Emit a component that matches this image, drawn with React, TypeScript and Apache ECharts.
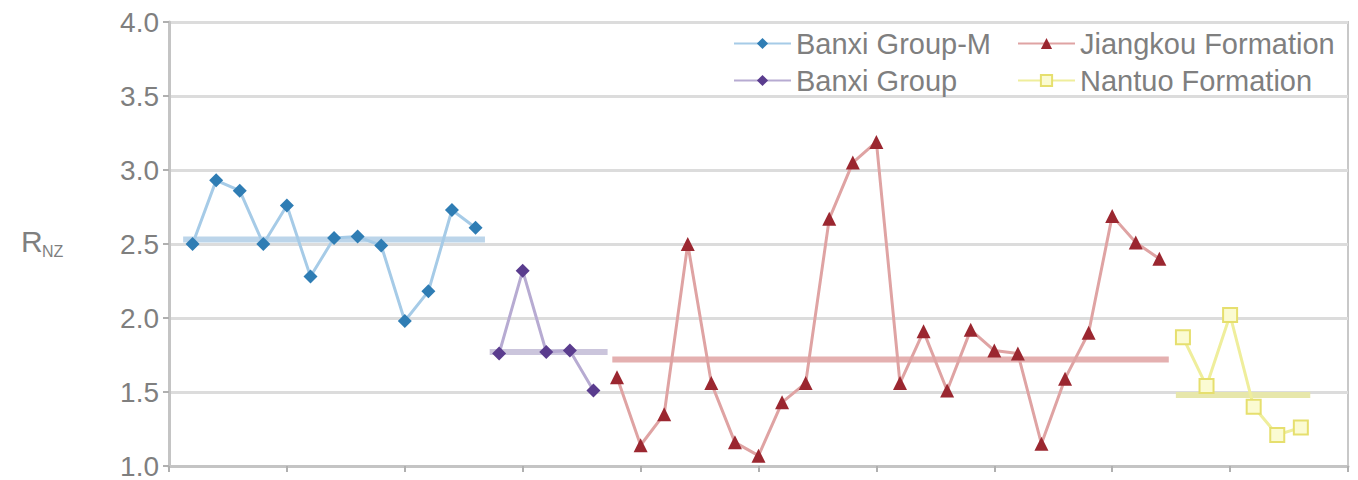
import React, { useEffect, useRef } from "react";
import * as echarts from "echarts";

// Sample values (R_NZ) per unit, in stratigraphic order
const banxiM = [2.50, 2.93, 2.86, 2.50, 2.76, 2.28, 2.54, 2.55, 2.49, 1.98, 2.18, 2.73, 2.61];
const banxi = [1.76, 2.32, 1.77, 1.78, 1.51];
const jiangkou = [1.60, 1.14, 1.35, 2.50, 1.56, 1.16, 1.07, 1.43, 1.56, 2.67, 3.05, 3.19, 1.56, 1.91, 1.51, 1.92, 1.78, 1.76, 1.15, 1.59, 1.90, 2.69, 2.51, 2.40];
const nantuo = [1.87, 1.54, 2.02, 1.40, 1.21, 1.26];

// Average level of each unit and the sample range it spans
const meanValues = [2.53, 1.77, 1.72, 1.48];
const meanSpans = [[0.6, 13.4], [13.6, 18.6], [18.8, 42.4], [42.7, 48.4]];

const seriesNames = ["Banxi Group-M", "Banxi Group", "Jiangkou Formation", "Nantuo Formation"];
const yTicks = [1.0, 1.5, 2.0, 2.5, 3.0, 3.5, 4.0];

const lineColors = ["#a6cbe7", "#b7abd2", "#dfa3a3", "#efee9c"];
const markerColors = ["#2f7db4", "#5a3c8e", "#9b2730", "#e6df6e"];
const meanColors = ["#bcd5ea", "#cbc5dc", "#e4b0b0", "#e7e7ab"];

export default function App() {
  const ref = useRef<HTMLDivElement>(null);
  useEffect(() => {
    document.body.style.margin = "0";
    if (!ref.current) return;
    const chart = echarts.init(ref.current, null, { renderer: "svg" });
    const groups = [banxiM, banxi, jiangkou, nantuo];
    let start = 1;
    const dataSeries: any[] = groups.map((vals, gi) => {
      const data = vals.map((v, i) => [start + i, v]);
      start += vals.length;
      const symbols = ["diamond", "diamond", "triangle", "rect"];
      const sizes = [14, 14, 14, 14];
      return {
        name: seriesNames[gi],
        type: "line",
        data,
        symbol: symbols[gi],
        symbolSize: sizes[gi],
        showSymbol: true,
        z: 3,
        lineStyle: { color: lineColors[gi], width: 3 },
        itemStyle:
          gi === 3
            ? { color: "#fbfbd2", borderColor: markerColors[gi], borderWidth: 2 }
            : { color: markerColors[gi], borderWidth: 0 },
      };
    });
    const meanSeries: any[] = meanValues.map((m, i) => ({
      name: "mean" + i,
      type: "line",
      data: [
        [meanSpans[i][0], m],
        [meanSpans[i][1], m],
      ],
      symbol: "none",
      z: 2,
      lineStyle: { color: meanColors[i], width: 6 },
      silent: true,
    }));
    const legendText = { fontSize: 29, color: "#7f7f7f", fontFamily: "Liberation Sans" };
    chart.setOption({
      animation: false,
      backgroundColor: "#ffffff",
      grid: {
        left: 169,
        right: 10,
        top: 22,
        bottom: 11,
        show: true,
        borderColor: "#c8c8c8",
        borderWidth: 2,
      },
      legend: [
        {
          orient: "vertical",
          left: 728,
          top: 24,
          itemWidth: 57,
          itemHeight: 14,
          itemGap: 8,
          textStyle: legendText,
          data: [seriesNames[0], seriesNames[1]],
        },
        {
          orient: "vertical",
          left: 1012,
          top: 24,
          itemWidth: 57,
          itemHeight: 14,
          itemGap: 8,
          textStyle: legendText,
          data: [seriesNames[2], seriesNames[3]],
        },
      ],
      xAxis: {
        type: "value",
        min: 0,
        max: 50,
        interval: 5,
        axisLine: { show: true, lineStyle: { color: "#c4c4c4", width: 3 } },
        axisTick: { show: true, length: 6, lineStyle: { color: "#b0b0b0", width: 2 } },
        axisLabel: { show: false },
        splitLine: { show: false },
      },
      yAxis: {
        type: "value",
        min: yTicks[0],
        max: yTicks[yTicks.length - 1],
        interval: 0.5,
        axisLine: { show: true, lineStyle: { color: "#c4c4c4", width: 3 } },
        axisTick: { show: true, length: 6, lineStyle: { color: "#b0b0b0", width: 2 } },
        axisLabel: {
          fontSize: 28,
          color: "#7f7f7f",
          fontFamily: "Liberation Sans",
          margin: 10,
          formatter: (v: number) => v.toFixed(1),
        },
        splitLine: { show: true, lineStyle: { color: "#dcdcdc", width: 3 } },
      },
      graphic: [
        {
          type: "text",
          left: 21,
          top: 226,
          style: { text: "R", fontSize: 30, fill: "#7f7f7f", fontFamily: "Liberation Sans" },
        },
        {
          type: "text",
          left: 42,
          top: 243,
          style: { text: "NZ", fontSize: 16, fill: "#7f7f7f", fontFamily: "Liberation Sans" },
        },
      ],
      series: [...meanSeries, ...dataSeries],
    });
    return () => chart.dispose();
  }, []);
  return <div ref={ref} style={{ width: 1358, height: 480 }} />;
}
